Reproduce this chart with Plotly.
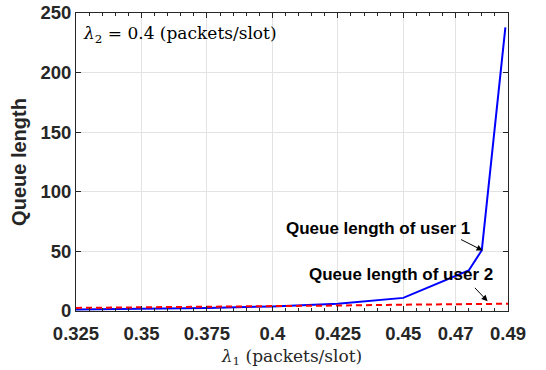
import plotly.graph_objects as go

lambda1 = [0.325, 0.35, 0.375, 0.4, 0.425, 0.45, 0.475, 0.48, 0.489]
queue_user1 = [1.3, 1.9, 2.6, 3.8, 6.0, 11.0, 34.0, 51.0, 238.0]
queue_user2 = [2.6, 3.0, 3.4, 3.9, 4.6, 5.3, 5.8, 5.9, 6.1]
red_x = [0.325, 0.35, 0.375, 0.4, 0.425, 0.45, 0.475, 0.48, 0.49]

xtick_vals = [0.325, 0.35, 0.375, 0.4, 0.425, 0.45, 0.47, 0.49]
xtick_text = ["0.325", "0.35", "0.375", "0.4", "0.425", "0.45", "0.47", "0.49"]
ytick_vals = [0, 50, 100, 150, 200, 250]

SANS = "Liberation Sans, Arial, Helvetica, sans-serif"
SERIF = "DejaVu Serif, serif"
AX = "#262626"

fig = go.Figure()
fig.add_trace(go.Scatter(x=lambda1, y=queue_user1, mode="lines",
                         line=dict(color="#0000ff", width=2), showlegend=False))
fig.add_trace(go.Scatter(x=red_x, y=queue_user2, mode="lines",
                         line=dict(color="#ff0000", width=2, dash="6px,4px"), showlegend=False))

fig.update_layout(
    width=546, height=370,
    margin=dict(l=76, r=37.5, t=12.5, b=58.5, autoexpand=False),
    paper_bgcolor="white", plot_bgcolor="white",
    font=dict(family=SANS, color=AX),
)
fig.update_xaxes(
    range=[0.325, 0.49], tickvals=xtick_vals, ticktext=xtick_text, automargin=False,
    tickfont=dict(family=SANS, size=18.5, color=AX, weight="bold"),
    ticklabeloverflow="allow", ticklabelstandoff=6,
    showline=True, linecolor=AX, linewidth=1, mirror="allticks",
    ticks="inside", ticklen=5, tickcolor=AX,
    showgrid=True, gridcolor="#e3e3e3", gridwidth=1, zeroline=False,
    minor=dict(ticks="inside", ticklen=3, dtick=0.005, tick0=0.325, tickcolor=AX, showgrid=False),
    title=dict(text="<i>λ</i><sub>1</sub> (packets/slot)", font=dict(family=SERIF, size=17, color=AX), standoff=6),
)
fig.update_yaxes(
    range=[0, 250], tickvals=ytick_vals, automargin=False,
    tickfont=dict(family=SANS, size=18.5, color=AX, weight="bold"),
    ticklabeloverflow="allow",
    showline=True, linecolor=AX, linewidth=1, mirror="allticks",
    ticks="inside", ticklen=5, tickcolor=AX,
    showgrid=True, gridcolor="#e3e3e3", gridwidth=1, zeroline=False,
    title=dict(text="Queue length", font=dict(family=SANS, size=20, color=AX, weight="bold"), standoff=8),
)

# text labels
fig.add_annotation(x=0.325, y=250, xref="x", yref="y", xanchor="left", yanchor="top",
                   xshift=5, yshift=-8, showarrow=False,
                   text="<i>λ</i><sub>2</sub> = 0.4 (packets/slot)",
                   font=dict(family=SERIF, size=17, color="black"))
fig.add_annotation(x=0.4402, y=69, xref="x", yref="y", showarrow=False,
                   text="<b>Queue length of user 1</b>", font=dict(family=SANS, size=17, color="black"))
fig.add_annotation(x=0.449, y=30.5, xref="x", yref="y", showarrow=False,
                   text="<b>Queue length of user 2</b>", font=dict(family=SANS, size=17, color="black"))
# arrows
fig.add_annotation(x=0.4803, y=50.8, ax=0.4715, ay=60.6, xref="x", yref="y", axref="x", ayref="y",
                   text="", showarrow=True, arrowhead=2, arrowsize=1.2, arrowwidth=1, arrowcolor="black")
fig.add_annotation(x=0.4822, y=8.2, ax=0.4768, ay=20.7, xref="x", yref="y", axref="x", ayref="y",
                   text="", showarrow=True, arrowhead=2, arrowsize=1.2, arrowwidth=1, arrowcolor="black")

fig.write_html("out.html", config={"displayModeBar": False},
               post_script="document.body.style.margin='0';document.body.style.overflow='hidden';")
